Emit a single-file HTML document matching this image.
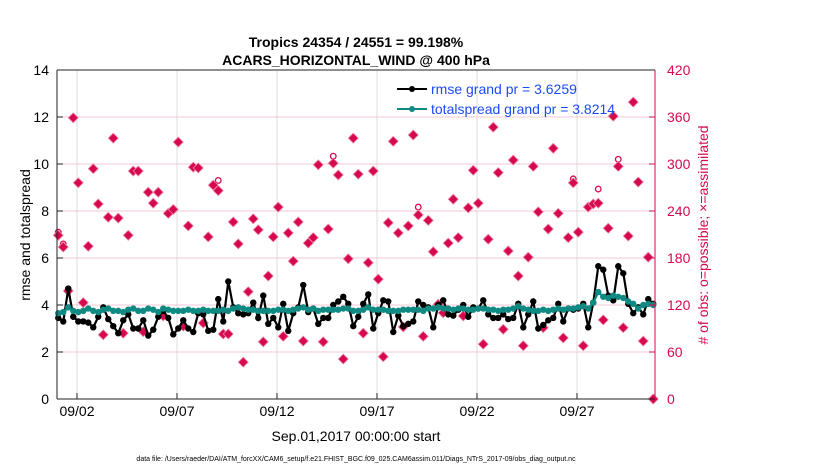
<!DOCTYPE html>
<html><head><meta charset="utf-8"><style>
html,body{margin:0;padding:0;background:#fff;}
svg{display:block;font-family:"Liberation Sans",Arial,sans-serif;}
</style></head><body>
<svg id="chart" width="830" height="470" viewBox="0 0 830 470">
<text x="356" y="47" text-anchor="middle" font-size="14" font-weight="bold">Tropics 24354 / 24551 = 99.198%</text>
<text x="356" y="65" text-anchor="middle" font-size="14" font-weight="bold">ACARS_HORIZONTAL_WIND @ 400 hPa</text>
<g id="grid"></g>
<g id="obs"></g>
<g id="lines"></g>
<g id="axes"></g>
<text transform="translate(30,235) rotate(-90)" text-anchor="middle" font-size="14">rmse and totalspread</text>
<text transform="translate(708,235) rotate(-90)" text-anchor="middle" font-size="14" fill="#d6084f"># of obs: o=possible; ×=assimilated</text>
<text x="356" y="441" text-anchor="middle" font-size="14">Sep.01,2017 00:00:00 start</text>
<text x="356" y="461" text-anchor="middle" font-size="7">data file: /Users/raeder/DAI/ATM_forcXX/CAM6_setup/f.e21.FHIST_BGC.f09_025.CAM6assim.011/Diags_NTrS_2017-09/obs_diag_output.nc</text>
<g id="legend">
<line x1="397" y1="89" x2="427" y2="89" stroke="#000" stroke-width="2"/>
<circle cx="412" cy="89" r="3" fill="#000"/>
<text x="431" y="94" font-size="14" fill="#1a4cf5">rmse grand pr = 3.6259</text>
<line x1="397" y1="109" x2="427" y2="109" stroke="#0e8a83" stroke-width="2"/>
<circle cx="412" cy="109" r="3" fill="#0e8a83"/>
<text x="431" y="114" font-size="14" fill="#1a4cf5">totalspread grand pr = 3.8214</text>
</g>
</svg>
<script>
const rmse=[3.45,3.3,4.7,3.5,3.3,3.3,3.25,3.05,3.5,3.9,3.4,3.1,2.8,3.35,3.6,3.0,3.0,3.35,2.7,2.95,3.5,3.75,3.45,2.75,3.0,3.35,3.0,2.85,3.65,3.6,2.9,2.95,4.25,3.3,5.0,3.9,3.65,3.6,3.65,4.1,3.45,4.4,3.2,3.45,3.05,4.05,2.9,3.65,3.9,4.85,3.7,3.85,3.2,3.45,3.45,4.0,4.15,4.35,4.05,3.1,
3.5,4.05,4.45,3.0,3.65,4.2,4.15,2.85,3.55,3.1,3.2,3.3,4.15,4.0,3.9,3.05,4.0,4.2,3.6,3.55,3.8,4.0,3.5,3.9,3.85,4.2,3.6,3.45,3.45,3.6,3.4,3.45,4.05,3.05,3.6,4.15,3.0,3.15,3.35,3.45,4.05,3.3,3.85,3.8,3.85,4.05,3.05,4.1,5.65,5.5,4.4,4.2,5.65,5.35,4.05,3.65,3.9,3.6,4.25,4.05];
const spread=[3.65,3.7,3.9,3.75,3.7,3.75,3.85,3.75,3.7,3.8,3.85,3.75,3.75,3.7,3.8,3.85,3.75,3.75,3.85,3.8,3.7,3.85,3.8,3.75,3.75,3.75,3.8,3.75,3.75,3.8,3.75,3.75,3.75,3.8,3.75,3.85,3.9,3.85,3.8,3.8,3.75,3.75,3.75,3.75,3.8,3.8,3.75,3.8,3.85,3.9,3.8,3.85,3.75,3.8,3.8,3.8,3.8,3.85,3.85,3.75,
3.75,3.8,3.9,3.8,3.8,3.8,3.75,3.75,3.75,3.8,3.8,3.8,3.8,3.75,3.85,3.85,3.9,3.85,3.85,3.8,3.85,3.85,3.8,3.8,3.85,3.85,3.8,3.8,3.75,3.8,3.8,3.85,3.95,3.85,3.8,3.75,3.75,3.8,3.75,3.8,3.85,3.8,3.85,3.85,3.9,3.95,3.85,4.1,4.55,4.35,4.3,4.4,4.35,4.3,4.15,4.05,3.85,4.0,4.05,4.0];
const assimilated=[209,194,138,359,276,123,195,294,249,82,232,333,231,84,209,291,291,86,264,250,264,106,237,242,328,93,221,296,295,97,207,273,266,83,83,226,198,47,137,230,216,73,157,207,245,80,212,176,226,74,199,206,299,73,217,301,286,51,179,333,
287,84,174,291,153,54,225,329,212,92,221,337,235,80,228,188,121,110,199,255,206,106,244,292,250,70,204,347,289,89,189,305,157,68,181,297,239,91,217,320,237,78,206,276,213,68,245,249,250,101,218,361,297,91,208,379,277,74,181,0];
const possible=[213,198,138,359,276,123,195,294,249,82,232,333,231,84,209,291,291,86,264,250,264,106,237,242,328,93,221,296,295,97,207,273,279,83,83,226,198,47,137,230,216,73,157,207,245,80,212,176,226,74,199,206,299,73,217,310,286,51,179,333,
287,84,174,291,153,54,225,329,212,92,221,337,245,80,228,188,121,110,199,255,206,106,244,292,250,70,204,347,289,89,189,305,157,68,181,297,239,91,217,320,237,78,206,281,213,68,245,249,268,101,218,361,306,91,208,379,277,74,181,0];
const xTickLabels=["09/02","09/07","09/12","09/17","09/22","09/27"];
const xTickDays=[1,6,11,16,21,26];
const leftTicks=[0,2,4,6,8,10,12,14];
const rightTicks=[0,60,120,180,240,300,360,420];

const L=57,R=655,T=70,B=399,NS="http://www.w3.org/2000/svg";
const xDay=d=>L+(R-L)*d/29.9;
const xIdx=i=>xDay((i+0.25)/4);
const yL=v=>B-(B-T)*v/14;
const yR=v=>B-(B-T)*v/420;
function mk(tag,attrs,parent){const e=document.createElementNS(NS,tag);for(const k in attrs)e.setAttribute(k,attrs[k]);parent.appendChild(e);return e;}
const grid=document.getElementById('grid'),axes=document.getElementById('axes'),obs=document.getElementById('obs'),lines=document.getElementById('lines');
mk('rect',{x:L,y:T,width:R-L,height:B-T,fill:'#fff'},grid);
xTickDays.forEach((d,k)=>{
  const x=xDay(d);
  const gl=mk('line',{x1:x,y1:T,x2:x,y2:B,stroke:'#dcdcdc','stroke-width':1},grid);
  
  
  mk('line',{x1:x,y1:B,x2:x,y2:B-6,stroke:'#222'},axes);
  const t=mk('text',{x:x,y:B+17,'text-anchor':'middle','font-size':14},axes);
  t.textContent=xTickLabels[k];
  
  
});
rightTicks.forEach(v=>{
  const y=yR(v);
  if(v>0&&v<420){const gl=mk('line',{x1:L,y1:y,x2:R,y2:y,stroke:'#f2c9d6','stroke-width':1},grid);
  
  }
  mk('line',{x1:R,y1:y,x2:R-6,y2:y,stroke:'#d6084f'},axes);
  const t=mk('text',{x:R+12,y:y+5,'font-size':14,fill:'#d6084f'},axes);
  t.textContent=v;
  
  
});
leftTicks.forEach(v=>{
  const y=yL(v);
  mk('line',{x1:L,y1:y,x2:L+6,y2:y,stroke:'#222'},axes);
  const t=mk('text',{x:L-8,y:y+5,'text-anchor':'end','font-size':14},axes);
  t.textContent=v;
  
  
});
mk('line',{x1:L,y1:B,x2:R,y2:B,stroke:'#222'},axes);
mk('line',{x1:L,y1:T,x2:L,y2:B,stroke:'#222'},axes);
mk('line',{x1:R,y1:T,x2:R,y2:B,stroke:'#d6084f'},axes);
mk('line',{x1:L,y1:T,x2:R,y2:T,stroke:'#222'},axes);
// obs markers
possible.forEach((v,i)=>{
  if(v!==assimilated[i]){
    const c=mk('circle',{cx:xIdx(i),cy:yR(v),r:2.8,fill:'none',stroke:'#d6084f','stroke-width':1.3},obs);
    
    
  }
});
assimilated.forEach((v,i)=>{
  const x=xIdx(i),y=yR(v);
  const p=mk('path',{d:`M${x-5},${y}L${x},${y-5}L${x+5},${y}L${x},${y+5}Z`,fill:'#d6084f',stroke:'#f08aa8','stroke-width':0.8},obs);
  
  
});
function series(arr,color,name){
  const pts=arr.map((v,i)=>xIdx(i).toFixed(1)+','+yL(v).toFixed(1)).join(' ');
  const pl=mk('polyline',{points:pts,fill:'none',stroke:color,'stroke-width':2.2},lines);
  
  
  arr.forEach((v,i)=>{
    const c=mk('circle',{cx:xIdx(i),cy:yL(v),r:3.2,fill:color},lines);
    
    
  });
}
series(rmse,'#000','rmse');
series(spread,'#0e8a83','totalspread');
</script>
</body></html>
